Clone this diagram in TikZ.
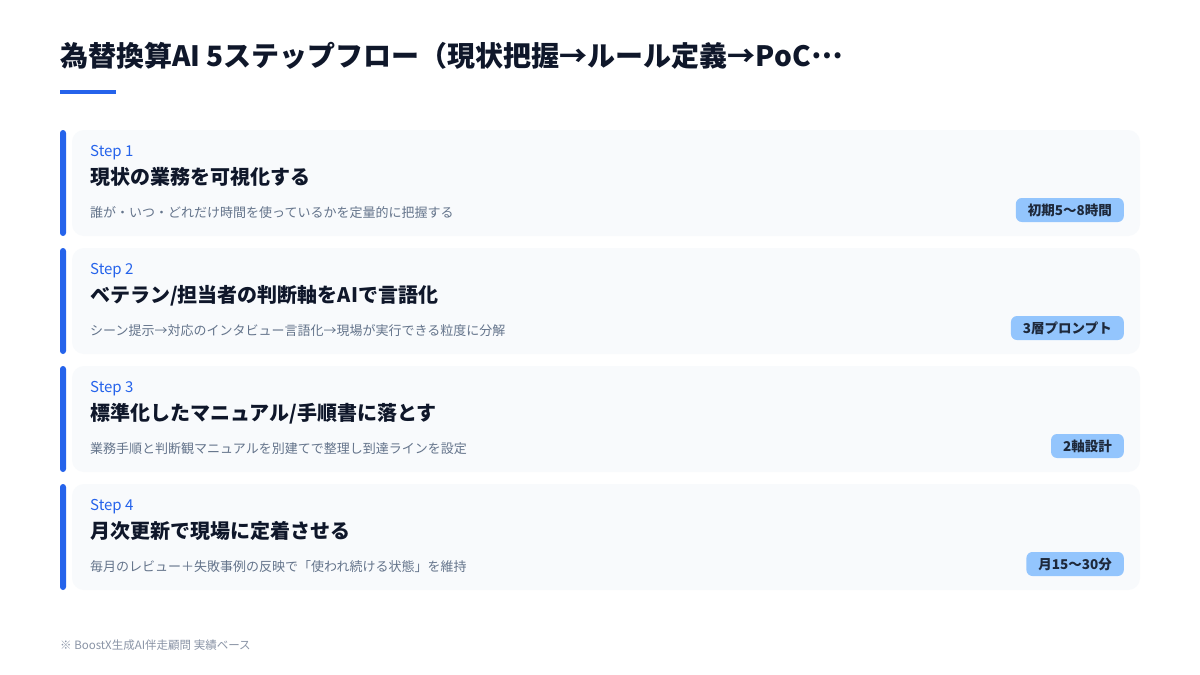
\documentclass[tikz,border=0pt]{standalone}
\usepackage{fontspec}
\setmainfont{Noto Sans CJK JP}
\definecolor{accent}{HTML}{2563EB}
\definecolor{cardbg}{HTML}{F8FAFC}
\definecolor{titlec}{HTML}{0F172A}
\definecolor{descc}{HTML}{64748B}
\definecolor{footc}{HTML}{8A94A6}
\definecolor{badgebg}{HTML}{93C5FD}
\definecolor{badgetx}{HTML}{1E293B}
\tikzset{
  cardbox/.style={fill=cardbg, draw=none, rounded corners=12pt},
  sidebar/.style={fill=accent, draw=none, rounded corners=3pt},
  steplbl/.style={anchor=base west, inner sep=0pt, text=accent, font=\fontsize{15}{17}\selectfont},
  headlbl/.style={anchor=base west, inner sep=0pt, text=titlec, font=\fontsize{20}{24}\selectfont\bfseries},
  desclbl/.style={anchor=base west, inner sep=0pt, text=descc, font=\fontsize{13}{16}\selectfont},
  badge/.style={anchor=east, fill=badgebg, rounded corners=6pt, text=badgetx, inner xsep=12pt, inner ysep=0pt, minimum height=24pt, font=\fontsize{13.5}{16}\selectfont\bfseries},
}
\newcommand\stepcard[6]{%
  \fill[cardbox] (72,#1) rectangle (1140,#1+106);
  \fill[sidebar] (60,#1) rectangle (66,#1+106);
  \node[steplbl] (step#2) at (90,#1+26.2) {#3};
  \node[headlbl] (head#2) at (90,#1+54.6) {#4};
  \node[desclbl] (desc#2) at (90,#1+87.4) {#5};
  \node[badge] (badge#2) at (1124,#1+80) {#6};
}
\begin{document}
\begin{tikzpicture}[x=1pt,y=-1pt]
\useasboundingbox[fill=white] (0,0) rectangle (1200,675);
\node[anchor=base west, inner sep=0pt, text=titlec, font=\fontsize{28}{34}\selectfont\bfseries] (title) at (60,66.6) {為替換算AI 5ステップフロー（現状把握→ルール定義→PoC\raisebox{0.3em}{…}};
\fill[accent] (60,90) rectangle (116,94);
\stepcard{130}{1}{Step 1}{現状の業務を可視化する}{誰が・いつ・どれだけ時間を使っているかを定量的に把握する}{初期5～8時間}
\stepcard{248}{2}{Step 2}{ベテラン/担当者の判断軸をAIで言語化}{シーン提示→対応のインタビュー言語化→現場が実行できる粒度に分解}{3層プロンプト}
\stepcard{366}{3}{Step 3}{標準化したマニュアル/手順書に落とす}{業務手順と判断観マニュアルを別建てで整理し到達ラインを設定}{2軸設計}
\stepcard{484}{4}{Step 4}{月次更新で現場に定着させる}{毎月のレビュー＋失敗事例の反映で「使われ続ける状態」を維持}{月15～30分}
\node[anchor=base west, inner sep=0pt, text=footc, font=\fontsize{11.5}{13}\selectfont] (foot) at (60,649) {※ BoostX生成AI伴走顧問 実績ベース};
\end{tikzpicture}
\end{document}
